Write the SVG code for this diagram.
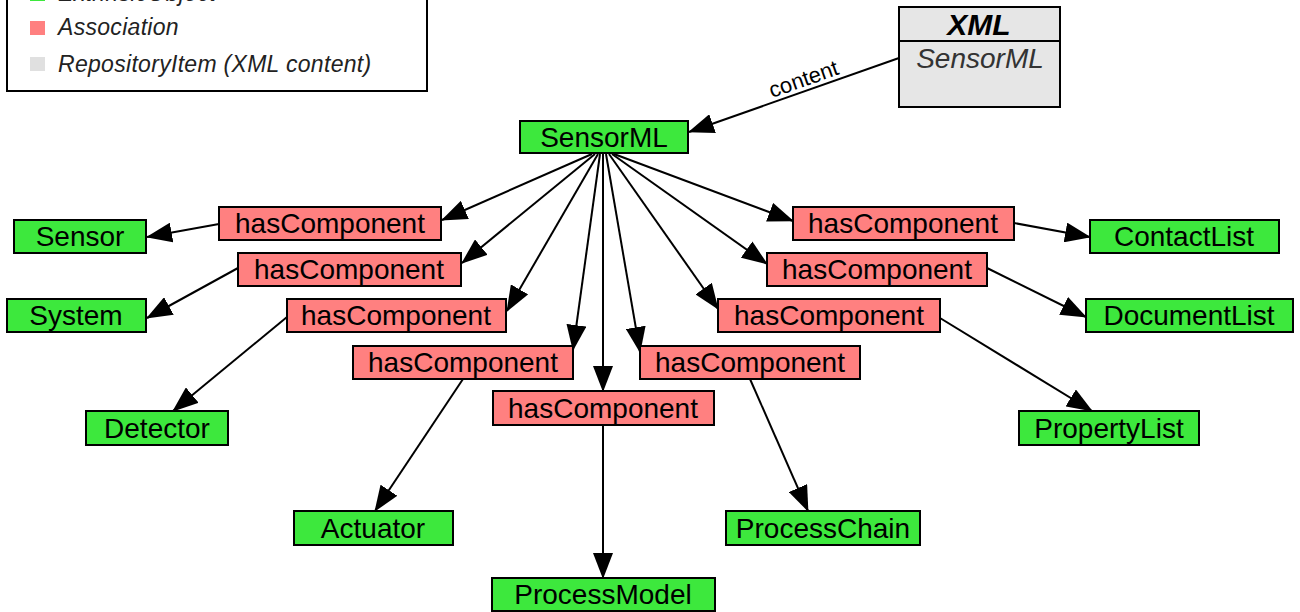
<svg xmlns="http://www.w3.org/2000/svg" width="1300" height="612" viewBox="0 0 1300 612">
<style>
.g rect{fill:#3DE83D;stroke:#000;stroke-width:2}
.a rect{fill:#FF8080;stroke:#000;stroke-width:2}
.t{font-family:"Liberation Sans",Arial,sans-serif;font-size:28px;fill:#000;text-anchor:middle}
.lg{font-family:"Liberation Sans",Arial,sans-serif;font-size:23px;font-style:italic;fill:#222;letter-spacing:0.3px}
.c line{stroke:#000;stroke-width:2;marker-end:url(#ah)}
</style>
<defs>
<marker id="ah" markerUnits="userSpaceOnUse" markerWidth="26" markerHeight="20" refX="25" refY="10" orient="auto">
<path d="M0,0 L26,10 L0,20 z" fill="#000"/>
</marker>
</defs>
<rect width="1300" height="612" fill="#fff"/>
<g id="legend">
<rect x="7" y="-20" width="420" height="111" fill="#fff" stroke="#000" stroke-width="2"/>
<rect x="30" y="-13" width="15" height="14" fill="#3DE83D"/>
<text class="lg" x="58" y="1">ExtrinsicObject</text>
<rect x="30" y="21" width="15" height="14" fill="#FF8080"/>
<text class="lg" x="58" y="35">Association</text>
<rect x="30" y="57" width="15" height="14" fill="#E0E0E0"/>
<text class="lg" x="58" y="72">RepositoryItem (XML content)</text>
</g>
<g id="xml">
<rect x="899" y="7" width="161" height="100" fill="#E6E6E6" stroke="#000" stroke-width="2"/>
<line x1="899" y1="41" x2="1060" y2="41" stroke="#000" stroke-width="2"/>
<text x="979" y="35" font-family="Liberation Sans,Arial,sans-serif" font-size="30" font-style="italic" font-weight="bold" text-anchor="middle">XML</text>
<text x="980" y="68" font-family="Liberation Sans,Arial,sans-serif" font-size="28" font-style="italic" fill="#333" text-anchor="middle">SensorML</text>
</g>
<g class="c" id="connectors">
<line x1="899" y1="58" x2="689" y2="132"/>
<line x1="592" y1="154" x2="442" y2="220"/>
<line x1="595" y1="154" x2="462" y2="263"/>
<line x1="598" y1="154" x2="507" y2="311"/>
<line x1="600" y1="154" x2="573" y2="350"/>
<line x1="603" y1="154" x2="603" y2="391"/>
<line x1="606" y1="154" x2="640" y2="352"/>
<line x1="609" y1="154" x2="718" y2="309"/>
<line x1="612" y1="154" x2="767" y2="264"/>
<line x1="614" y1="154" x2="793" y2="221"/>
<line x1="219" y1="224" x2="147" y2="237"/>
<line x1="238" y1="268" x2="147" y2="318"/>
<line x1="287" y1="317" x2="173" y2="411"/>
<line x1="463" y1="379" x2="375" y2="511"/>
<line x1="603" y1="425" x2="603" y2="578"/>
<line x1="750" y1="379" x2="808" y2="511"/>
<line x1="940" y1="318" x2="1092" y2="411"/>
<line x1="987" y1="268" x2="1086" y2="317"/>
<line x1="1014" y1="223" x2="1090" y2="237"/>
<text x="806" y="86" transform="rotate(-19.5 806 86)" font-family="Liberation Sans,Arial,sans-serif" font-size="22" text-anchor="middle">content</text>
</g>
<g id="n-sensorml" class="g"><rect x="520" y="121" width="168" height="32"/><text class="t" x="604" y="147">SensorML</text></g>
<g id="n-sensor" class="g"><rect x="14" y="220" width="132" height="33"/><text class="t" x="80" y="246">Sensor</text></g>
<g id="n-system" class="g"><rect x="7" y="299" width="139" height="33"/><text class="t" x="76" y="325">System</text></g>
<g id="n-detector" class="g"><rect x="86" y="411" width="142" height="34"/><text class="t" x="157" y="438">Detector</text></g>
<g id="n-actuator" class="g"><rect x="294" y="511" width="159" height="34"/><text class="t" x="373" y="538">Actuator</text></g>
<g id="n-processmodel" class="g"><rect x="492" y="578" width="223" height="33"/><text class="t" x="603" y="604">ProcessModel</text></g>
<g id="n-processchain" class="g"><rect x="726" y="511" width="194" height="34"/><text class="t" x="823" y="538">ProcessChain</text></g>
<g id="n-propertylist" class="g"><rect x="1019" y="411" width="180" height="34"/><text class="t" x="1109" y="438">PropertyList</text></g>
<g id="n-documentlist" class="g"><rect x="1086" y="299" width="207" height="33"/><text class="t" x="1189" y="325">DocumentList</text></g>
<g id="n-contactlist" class="g"><rect x="1090" y="220" width="189" height="33"/><text class="t" x="1184" y="246">ContactList</text></g>
<g id="a1" class="a"><rect x="219" y="207" width="222" height="33"/><text class="t" x="330" y="233">hasComponent</text></g>
<g id="a2" class="a"><rect x="238" y="253" width="223" height="33"/><text class="t" x="349" y="279">hasComponent</text></g>
<g id="a3" class="a"><rect x="287" y="299" width="219" height="33"/><text class="t" x="396" y="325">hasComponent</text></g>
<g id="a4" class="a"><rect x="353" y="346" width="220" height="33"/><text class="t" x="463" y="372">hasComponent</text></g>
<g id="a5" class="a"><rect x="493" y="391" width="221" height="34"/><text class="t" x="603" y="418">hasComponent</text></g>
<g id="a6" class="a"><rect x="640" y="346" width="220" height="33"/><text class="t" x="750" y="372">hasComponent</text></g>
<g id="a7" class="a"><rect x="718" y="299" width="222" height="33"/><text class="t" x="829" y="325">hasComponent</text></g>
<g id="a8" class="a"><rect x="767" y="253" width="220" height="33"/><text class="t" x="877" y="279">hasComponent</text></g>
<g id="a9" class="a"><rect x="793" y="207" width="221" height="33"/><text class="t" x="903" y="233">hasComponent</text></g>
</svg>
